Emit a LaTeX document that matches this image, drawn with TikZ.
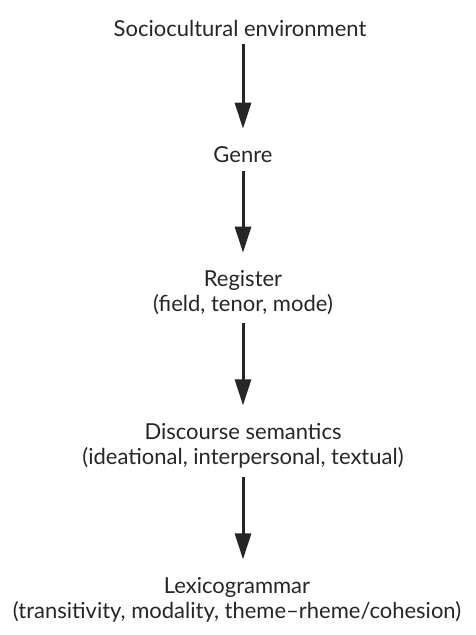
\documentclass[tikz,border=0pt]{standalone}
\usepackage{fontspec}
\setmainfont{Lato}
\usetikzlibrary{arrows.meta}

\begin{document}
\begin{tikzpicture}[x=1pt,y=-1pt,
  level/.style={align=center,inner sep=0pt,font=\fontsize{22}{25}\selectfont,text=black!85},
  flow/.style={line width=3pt,black!85,-{Triangle[width=16pt,length=26pt]}}]
\useasboundingbox (0,0) rectangle (475,635);
%
\node[level] (soc) at (240,28) {Sociocultural environment};
\node[level] (gen) at (243,155) {Genre};
\node[level] (reg) at (243,293) {Register\\(field, tenor, mode)};
\node[level] (dis) at (243,446) {Discourse semantics\\(ideational, interpersonal, textual)};
\node[level] (lex) at (237,600) {Lexicogrammar\\(transitivity, modality, theme--rheme/cohesion)};
%
\draw[flow,shorten <=8pt,shorten >=18pt] (soc.south -| gen.north) -- (gen.north);
\draw[flow,shorten <=8pt,shorten >=18pt] (gen.south) -- (reg.north);
\draw[flow,shorten <=8pt,shorten >=18pt] (reg.south) -- (dis.north);
\draw[flow,shorten <=8pt,shorten >=18pt] (dis.south) -- (lex.north -| dis.south);
\end{tikzpicture}
\end{document}
